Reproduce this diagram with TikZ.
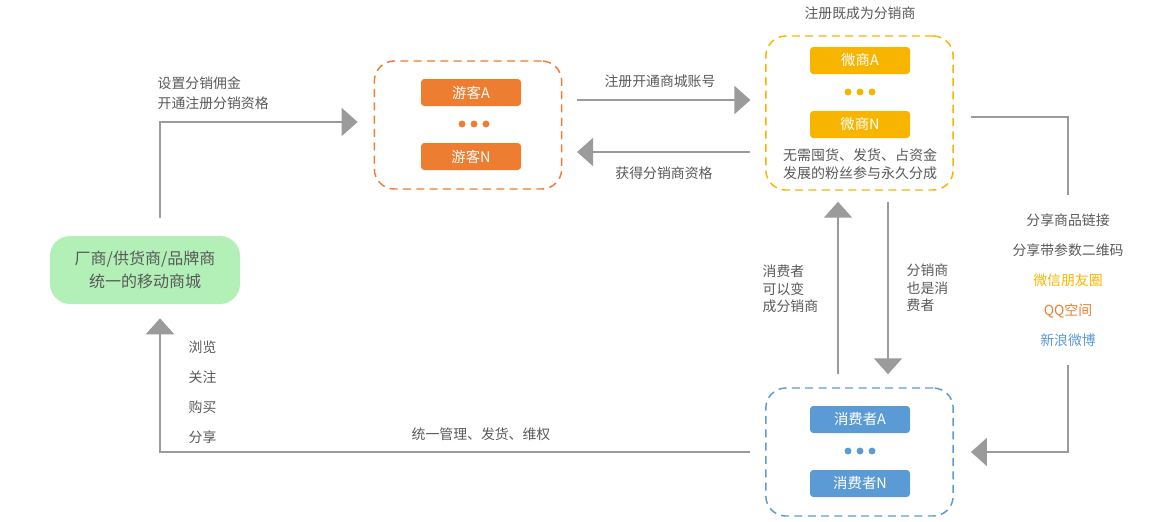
\documentclass[tikz,border=0pt]{standalone}
\usepackage{fontspec}
\setmainfont{Noto Sans CJK SC}
\usetikzlibrary{arrows.meta, positioning, calc}
\definecolor{youkeorange}{HTML}{ED7D31}
\definecolor{weiyellow}{HTML}{F7B500}
\definecolor{xiaoblue}{HTML}{5B9BD5}
\definecolor{mallgreen}{HTML}{B2F0B8}
\definecolor{linegray}{HTML}{9B9B9B}
\definecolor{textgray}{HTML}{595959}

\begin{document}
\begin{tikzpicture}[x=0.75pt, y=-0.75pt,
    every node/.style={text=textgray, font=\fontsize{10.4pt}{12pt}\selectfont},
    flow/.style={draw=linegray, line width=1.5pt, -{Triangle[length=12pt, width=21pt]}},
    plain/.style={draw=linegray, line width=1.5pt},
    group/.style={draw=#1, dashed, dash pattern=on 6pt off 4pt, line width=1.1pt,
        rounded corners=15pt, minimum width=140.5pt},
    member/.style={fill=#1, rounded corners=2.5pt, minimum width=75pt, minimum height=20.25pt,
        text=white, font=\fontsize{10.8pt}{12pt}\selectfont}]
    \useasboundingbox (0,0) rectangle (1176,521);

    % 商城
    \node[fill=mallgreen, rounded corners=15pt, minimum width=142.5pt, minimum height=51pt,
        align=center, font=\fontsize{12pt}{17pt}\selectfont] (mall) at (145,270)
        {厂商/供货商/品牌商\\统一的移动商城};

    % 游客
    \node[group=youkeorange, minimum height=96pt] (youke) at (468,125) {};
    \node[member=youkeorange] (youkeA) at (471,92.5) {游客A};
    \node[member=youkeorange] (youkeN) at (471,156.5) {游客N};
    \foreach \x in {462,474,486} \fill[youkeorange] (\x,124) circle (2.6pt);

    % 微商
    \node[group=weiyellow, minimum height=115.5pt] (weishang) at (859.5,113) {};
    \node[member=weiyellow] (weiA) at (860,60.5) {微商A};
    \node[member=weiyellow] (weiN) at (860,124.5) {微商N};
    \foreach \x in {848,860,872} \fill[weiyellow] (\x,92) circle (2.6pt);
    \node[align=center, font=\fontsize{10.5pt}{13.5pt}\selectfont] (weinote) at (860,164)
        {无需囤货、发货、占资金\\发展的粉丝参与永久分成};
    \node (weititle) at (860,13) {注册既成为分销商};

    % 消费者
    \node[group=xiaoblue, minimum height=96pt] (xiaofei) at (859.5,452) {};
    \node[member=xiaoblue] (xiaoA) at (860,419.5) {消费者A};
    \node[member=xiaoblue] (xiaoN) at (860,483.5) {消费者N};
    \foreach \x in {848,860,872} \fill[xiaoblue] (\x,451) circle (2.6pt);

    % 商城 -> 游客
    \draw[flow, shorten <=13.5pt, shorten >=12pt] ($(mall.north)+(15,0)$) |- ($(youke.west)+(0,-3)$);
    \node[align=left, anchor=south west, font=\fontsize{10.4pt}{15pt}\selectfont] (setlabel) at (153,114)
        {设置分销佣金\\开通注册分销资格};

    % 游客 <-> 微商
    \draw[flow, shorten <=11pt, shorten >=11pt] ($(youke.east)+(0,-25)$) -- ($(weishang.west)+(0,-13)$);
    \node (reglabel) at (660,81) {注册开通商城账号};
    \draw[flow, shorten <=11pt, shorten >=11pt] ($(weishang.west)+(0,39)$) -- ($(youke.east)+(0,27)$);
    \node (getlabel) at (664,173) {获得分销商资格};

    % 微商 <-> 消费者
    \draw[flow, shorten <=9.75pt, shorten >=8.25pt] ($(xiaofei.north)+(-21.5,0)$) -- ($(weishang.south)+(-21.5,0)$);
    \node[align=left, anchor=west, font=\fontsize{10.4pt}{13pt}\selectfont] (uplabel) at (758,289)
        {消费者\\可以变\\成分销商};
    \draw[flow, shorten <=8.25pt, shorten >=9.75pt] ($(weishang.south)+(28.5,0)$) -- ($(xiaofei.north)+(28.5,0)$);
    \node[align=left, anchor=west, font=\fontsize{10.4pt}{13pt}\selectfont] (downlabel) at (902,288)
        {分销商\\也是消\\费者};

    % 分享
    \node[align=center, inner ysep=0pt, font=\fontsize{10.4pt}{22.5pt}\selectfont] (share) at (1068,280)
        {分享商品链接\\分享带参数二维码\\{\color{weiyellow}微信朋友圈}\\{\color{youkeorange}QQ空间}\\{\color{xiaoblue}新浪微博}};
    \coordinate (sharetop) at (1068,195);
    \coordinate (sharebot) at (1068,365);
    \draw[plain, shorten <=12.75pt] ($(weishang.east)+(0,4)$) -| (sharetop);
    \draw[flow, shorten >=12.75pt] (sharebot) |- (xiaofei.east);

    % 消费者 -> 商城
    \draw[flow, shorten <=11pt, shorten >=10.5pt] (xiaofei.west) -| ($(mall.south)+(15,0)$);
    \node[align=left, anchor=north west, font=\fontsize{10.4pt}{22.5pt}\selectfont] (actlabel) at (184,336)
        {浏览\\关注\\购买\\分享};
    \node (mglabel) at (481,434) {统一管理、发货、维权};
\end{tikzpicture}
\end{document}
